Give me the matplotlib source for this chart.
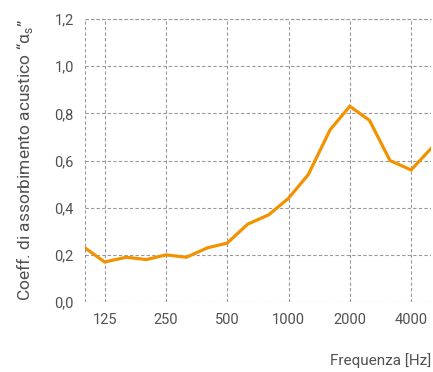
import matplotlib
matplotlib.use("Agg")
import matplotlib.pyplot as plt
from matplotlib.ticker import FixedLocator, NullLocator, FixedFormatter

plt.rcParams['font.family'] = ['Roboto', 'DejaVu Sans']
plt.rcParams['mathtext.fontset'] = 'custom'
plt.rcParams['mathtext.rm'] = 'Roboto'

# third-octave band centres [Hz] and absorption coefficient
freq = [100, 125, 160, 200, 250, 315, 400, 500, 630, 800, 1000,
        1250, 1600, 2000, 2500, 3150, 4000, 5000]
alpha = [0.23, 0.17, 0.19, 0.18, 0.20, 0.19, 0.23, 0.25, 0.33, 0.37, 0.44,
         0.54, 0.73, 0.83, 0.77, 0.60, 0.56, 0.65]

xticks = [125, 250, 500, 1000, 2000, 4000]
yticks = [0.0, 0.2, 0.4, 0.6, 0.8, 1.0, 1.2]
ylabels = ['0,0', '0,2', '0,4', '0,6', '0,8', '1,0', '1,2']

txt = '#505050'
fig = plt.figure(figsize=(4.33, 3.72), dpi=100)
ax = fig.add_axes([0.196, 0.188, 0.799, 0.761])

ax.plot(freq, alpha, color='#F39200', lw=2.3, solid_joinstyle='miter', zorder=3)

ax.set_xscale('log')
ax.set_xlim(100, 5000)
ax.set_ylim(0, 1.2)
ax.xaxis.set_major_locator(FixedLocator(xticks))
ax.xaxis.set_major_formatter(FixedFormatter([str(t) for t in xticks]))
ax.xaxis.set_minor_locator(NullLocator())
ax.set_yticks(yticks)
ax.set_yticklabels(ylabels)

ax.grid(True, color='#999999', ls=(0, (3, 2)), lw=0.8)
for s in ax.spines.values():
    s.set_visible(False)
# dashed frame on left and top like the grid
ax.axvline(100, color='#999999', ls=(0, (3, 2)), lw=0.8)
ax.axhline(1.2, color='#999999', ls=(0, (3, 2)), lw=0.8, clip_on=False)

ax.tick_params(length=0, labelsize=10.5, labelcolor=txt)
ax.tick_params(axis='y', pad=8)
ax.tick_params(axis='x', pad=8)

ax.set_ylabel('Coeff. di assorbimento acustico \u201c\u03b1$_\\mathrm{s}$\u201d',
              fontsize=12.5, color=txt, labelpad=14)
fig.text(0.995, 0.012, 'Frequenza [Hz]', ha='right', va='bottom', fontsize=11, color=txt)

fig.savefig('out.png', dpi=100)
